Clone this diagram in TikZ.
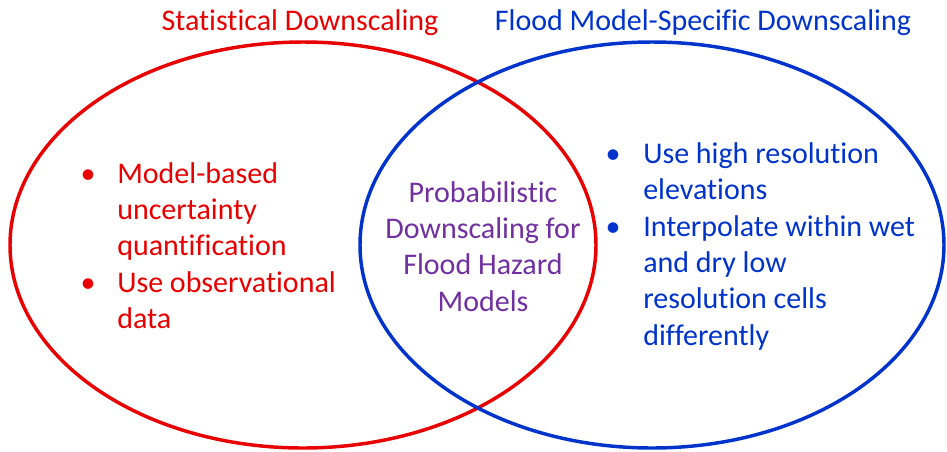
\documentclass[tikz,border=0pt]{standalone}
\usepackage{fontspec}
\setmainfont{Carlito}[Ligatures=NoCommon]
\definecolor{statred}{RGB}{232,0,0}
\definecolor{floodblue}{RGB}{0,51,204}
\definecolor{probpurple}{RGB}{112,48,160}
\newcommand{\bigtext}{\fontsize{22.5}{27.3}\selectfont}
\begin{document}
\begin{tikzpicture}
    [
    x=0.75pt,y=-0.75pt,
    ring/.style={line width=2.6pt},
    title/.style={anchor=base,inner sep=0pt,font=\bigtext},
    dot/.style={anchor=base,inner sep=0pt,font=\bigtext},
    lines/.style={anchor=base west,inner sep=0pt,font=\bigtext}
    ]
    \useasboundingbox (0,0) rectangle (947,451);
    % the two sets
    \draw [ring,statred] (303,245) ellipse [x radius=293, y radius=203];
    \draw [ring,floodblue] (652,245) ellipse [x radius=292, y radius=203];
    % headings
    \node (statlabel) at (300,30) [title,statred] {Statistical Downscaling};
    \node (floodlabel) at (703,30) [title,floodblue] {Flood Model-Specific Downscaling};
    % left set
    \node (b1) at (88,183) [dot,statred] {\textbullet};
    \node (stat1) at (117,183) [lines,statred] {\begin{tabular}[t]{@{}l@{}}Model-based\\uncertainty\\quantification\end{tabular}};
    \node (b2) at (88,292) [dot,statred] {\textbullet};
    \node (stat2) at (117,292) [lines,statred] {\begin{tabular}[t]{@{}l@{}}Use observational\\data\end{tabular}};
    % overlap
    \node (both) at (483,202) [anchor=base,inner sep=0pt,font=\bigtext,probpurple]
      {\begin{tabular}[t]{@{}c@{}}Probabilistic\\Downscaling for\\Flood Hazard\\Models\end{tabular}};
    % right set
    \node (b3) at (613,163) [dot,floodblue] {\textbullet};
    \node (flood1) at (643,163) [lines,floodblue] {\begin{tabular}[t]{@{}l@{}}Use high resolution\\elevations\end{tabular}};
    \node (b4) at (613,236) [dot,floodblue] {\textbullet};
    \node (flood2) at (643,236) [lines,floodblue] {\begin{tabular}[t]{@{}l@{}}Interpolate within wet\\and dry low\\resolution cells\\differently\end{tabular}};
  \end{tikzpicture}
\end{document}
